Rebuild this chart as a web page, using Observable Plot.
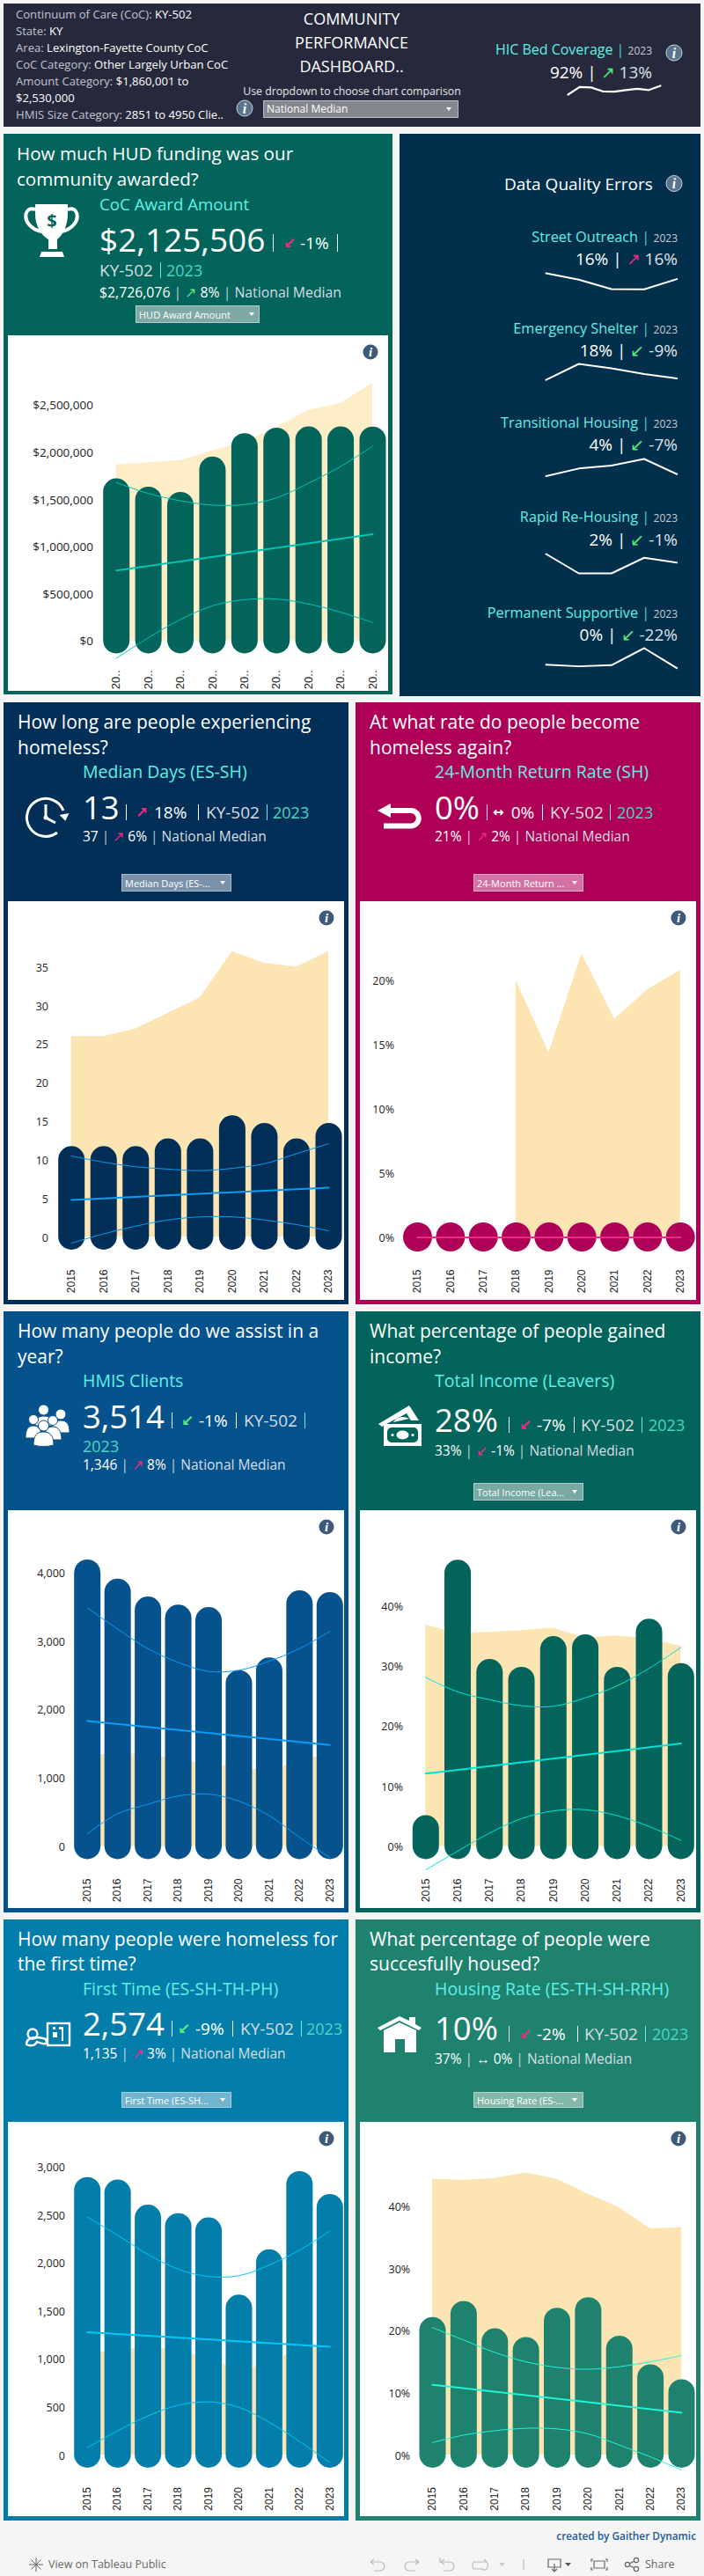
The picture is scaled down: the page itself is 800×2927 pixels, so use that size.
<!DOCTYPE html>
<html><head><meta charset="utf-8">
<script src="https://cdn.jsdelivr.net/npm/d3@7"></script>
<script src="https://cdn.jsdelivr.net/npm/@observablehq/plot@0.6"></script>
<style>
html,body{margin:0;padding:0;background:#f5f5f5;}
#page{position:relative;width:800px;height:2927px;overflow:hidden;font-family:"Open Sans",sans-serif;}
.box{position:absolute;}
.t{position:absolute;white-space:nowrap;transform:translateY(-50%);line-height:1;}
.plot{position:absolute;}
.plot svg{display:block;font-family:"Open Sans",sans-serif;}
</style></head><body><div id="page"></div>
<script>
const years=[2015,2016,2017,2018,2019,2020,2021,2022,2023];
const trendYears=[2015,2023];
const dqYears=[2019,2020,2021,2022,2023];

const awardCoC=[1576000,1489000,1433000,1807000,2055000,2114000,2127000,2127000,2125506];
const awardNat=[1866000,1887000,1909000,2012000,2105000,2260000,2441000,2516000,2726076];
const awardTrend=[743000,1129000];
const awardUpper=[1676000,1561000,1483000,1437000,1443000,1514000,1670000,1847000,2062000];
const awardLower=[-187000,31000,224000,370000,435000,442000,389000,302000,193000];
const awardTicks=[0,500000,1000000,1500000,2000000,2500000];

const daysCoC=[10,10,10,11,11,14,13,11,13];
const daysNat=[26,26,27,29,31,37,35.5,35,37];
const daysTrend=[4.8,6.4];
const daysUpper=[10.5,9.7,9.1,8.8,8.6,8.9,9.5,10.8,12.1];
const daysLower=[-0.8,0.4,1.4,2.2,2.6,2.6,2.2,1.6,0.8];
const daysTicks=[0,5,10,15,20,25,30,35];

const returnCoC=[0,0,0,0,0,0,0,0,0];
const returnNat=[null,null,null,20,14.4,22.1,17,19.3,20.8];
const returnTrend=[0,0];
const returnTicks=[0,5,10,15,20];

const clientsCoC=[3990,3710,3450,3330,3295,2375,2560,3540,3514];
const clientsNat=[1325,1350,1345,1260,1205,1160,1100,1250,1346];
const clientsTrend=[1831,1481];
const clientsUpper=[3483,3174,2887,2686,2554,2571,2703,2887,3139];
const clientsLower=[184,476,614,735,763,660,448,132,-166];
const clientsTicks=[0,1000,2000,3000,4000];

const incomeCoC=[2.9,45.4,28.9,27.6,32.7,33,27.6,35.6,28.2];
const incomeNat=[36.8,35.4,35.6,35.9,36.3,34.7,35,34.5,33.3];
const incomeTrend=[12.1,17.1];
const incomeUpper=[28.1,25.7,24.4,23.4,23.3,24.7,26.7,29.6,33.1];
const incomeLower=[-3.9,-0.8,2.2,4.6,5.9,6.1,5.1,3.3,1];
const incomeTicks=[0,10,20,30,40];

const firstCoC=[2752,2726,2465,2376,2332,1527,2000,2814,2574];
const firstNat=[1060,1085,1125,1085,1010,885,950,1115,1135];
const firstTrend=[1279,1128];
const firstUpper=[2478,2288,2088,1934,1858,1867,1978,2133,2332];
const firstLower=[75,252,407,518,553,496,341,142,-80];
const firstTicks=[0,500,1000,1500,2000,2500,3000];

const housedCoC=[20,22.6,18.2,16.8,21.5,23.2,17,12.4,10];
const housedNat=[44.4,44.2,44.5,45.4,44.4,42,39.8,36.4,36.6];
const housedTrend=[11.3,6.8];
const housedUpper=[20.5,18.5,16.5,15,14.1,13.8,14.2,15,16];
const housedLower=[2,3.2,3.9,4.3,4.2,3.4,1.6,-0.3,-2.4];
const housedTicks=[0,10,20,30,40];

const hicCoverage=[65,88.5,87,75,74,79,83,79,92];
const dqStreet=[25,15,0.5,0,16];
const dqShelter=[15,48,39,27,18];
const dqTransitional=[3.1,6.6,8,11,4];
const dqRapid=[3.6,0,0,2.9,2];
const dqPermanent=[3.7,2,3.3,22,0];

const page=document.getElementById("page");
function box(x,y,w,h,c){const d=document.createElement("div");d.className="box";d.style.cssText=`left:${x}px;top:${y}px;width:${w}px;height:${h}px;background:${c}`;page.appendChild(d);return d;}
function txt(x,y,s,size,color,o={}){const d=document.createElement("div");d.className="t";d.innerHTML=s;
 let css=`top:${y}px;font-size:${size}px;color:${color};`;
 if(o.right!==undefined)css+=`right:${800-o.right}px;`;else if(o.center)css+=`left:${x}px;transform:translate(-50%,-50%);`;else css+=`left:${x}px;`;
 if(o.weight)css+=`font-weight:${o.weight};`;if(o.ls)css+=`letter-spacing:${o.ls}px;`;if(o.font)css+=`font-family:${o.font};`;
 d.style.cssText=css;page.appendChild(d);return d;}

const CYAN="#5ff0e6",PINK="#ec2a86",GREEN="#5fe87c",SOFT="#d6dde2";
const ARROWFONT='"DejaVu Sans"';

function chart(c){
 const [bx,by,bw,bh]=c.box;
 const el=document.createElement("div");el.className="plot";el.style.cssText=`left:${bx}px;top:${by}px;`;
 const nat=c.nat||[];
 const marks=[];
 marks.push(Plot.areaY(nat,{x:(d,i)=>years[i],y1:0,y2:d=>d,fill:c.areaColor||"#fce5b2"}));
 marks.push(Plot.ruleX(c.coc,{x:(d,i)=>years[i],y1:0,y2:d=>d,stroke:c.bar,strokeWidth:c.bw||30,strokeLinecap:"round"}));
 if(c.upper)marks.push(Plot.line(c.upper,{x:(d,i)=>years[i],y:d=>d,stroke:c.line,strokeWidth:1,curve:"catmull-rom"}));
 if(c.lower)marks.push(Plot.line(c.lower,{x:(d,i)=>years[i],y:d=>d,stroke:c.line,strokeWidth:1,curve:"catmull-rom"}));
 marks.push(Plot.line(c.trend,{x:(d,i)=>trendYears[i],y:d=>d,stroke:c.line,strokeWidth:c.tw||2}));
 marks.push(Plot.axisY(c.ticks,{anchor:"left",tickSize:0,tickPadding:0,tickFormat:c.fmt,fontSize:c.fs||12.5,fill:"#222",dy:1}));
 marks.push(Plot.axisX(years,{anchor:"bottom",tickSize:0,tickPadding:0,tickRotate:-90,tickFormat:c.xfmt||(d=>String(d)),fontSize:c.xfs||12,fill:"#222",fontFamily:'"Liberation Sans"'}));
 const tt=c.ticks[c.ticks.length-1];
 const p=Plot.plot({width:bw,height:bh,marginLeft:c.labelRight-bx,marginRight:0,marginTop:0,marginBottom:bh-(c.labelTop-by),
  x:{domain:[2015,2023],range:[c.cx[0]-bx,c.cx[1]-bx]},
  y:{domain:[0,tt],range:[c.base-by,c.top-by]},
  style:{background:"#fff",overflow:"hidden"},marks});
 el.appendChild(p);page.appendChild(el);
}
function spark(vals,xs,x0,x1,yTop,yBot,w){
 const pad=4;const L=x0-pad,T=yTop-pad,W=x1-x0+2*pad,H=yBot-yTop+2*pad;
 const el=document.createElement("div");el.className="plot";el.style.cssText=`left:${L}px;top:${T}px;`;
 const p=Plot.plot({width:W,height:H,margin:0,
  x:{domain:d3.extent(xs),range:[pad,W-pad],axis:null},
  y:{domain:d3.extent(vals),range:[H-pad,pad],axis:null},
  style:{background:"transparent"},
  marks:[Plot.line(vals,{x:(d,i)=>xs[i],y:d=>d,stroke:"#fff",strokeWidth:w||2})]});
 el.appendChild(p);page.appendChild(el);
}
function dropdown(x0,y0,x1,y1,label,fill,border,fs){
 const d=box(x0,y0,x1-x0,y1-y0,fill);d.style.boxSizing="border-box";d.style.border=`1px solid ${border}`;
 txt(x0+4,(y0+y1)/2,label,fs||11,"#fff");
}
function pipe(x,y,h,c){box(x,y-h/2,1.2,h,c||"#fff");}

/* ---------- header ---------- */
box(4,4,792,140,"#26293c");
[["Continuum of Care (CoC): ","KY-502"],["State: ","KY"],["Area: ","Lexington-Fayette County CoC"],["CoC Category: ","Other Largely Urban CoC"],["Amount Category: ","$1,860,001 to"],["","$2,530,000"],["HMIS Size Category: ","2851 to 4950 Clie.."]].forEach((r,i)=>{
 txt(18,17.3+i*19,`<span style="color:#c2c5cd">${r[0]}</span><span style="color:#fff;font-weight:500">${r[1]}</span>`,13.1,"#fff");
});
["COMMUNITY","PERFORMANCE","DASHBOARD.."].forEach((s,i)=>txt(399.5,21+27*i,s,18,"#fff",{center:true}));
txt(400,104,"Use dropdown to choose chart comparison",12.3,"#e6e7ea",{center:true});
dropdown(299,114,521,134,"National Median","#85878f","#b9bbc0",12);
txt(0,55.5,`<span style="color:${CYAN}">HIC Bed Coverage</span> <span style="color:#5cc">|</span> <span style="color:#c9ccd2;font-size:12px">2023</span>`,16,"#fff",{right:741});
txt(0,81.5,`92% | <span style="color:${GREEN};font-family:${ARROWFONT};font-weight:bold;font-size:15px">↗</span> <span style="color:#dfe2e6">13%</span>`,19,"#fff",{right:741});
spark(hicCoverage,years,645,750,96.7,106.7,2.2);

/* ---------- award panel ---------- */
const G="#02645a";
box(4,152,442,637,G);
box(9,381,432,404,"#fff");
txt(19,174,"How much HUD funding was our",20.6,"#fff");
txt(19,203,"community awarded?",20.6,"#fff");
txt(113,231.5,"CoC Award Amount",18.7,CYAN);
txt(113,271,"$2,125,506",37,"#fff");
pipe(310,276,20);
txt(322,276,"↙",17,PINK,{font:ARROWFONT,weight:"bold"});
txt(341,276,"-1%",19,"#fff");pipe(383,276,20);
txt(113,307,"KY-502",19,SOFT);pipe(182,307,18,CYAN);
txt(189,307,"2023",18,"#46d8c4");
txt(113,332.5,`$2,726,076 <span style="color:#bcd">|</span> <span style="color:${GREEN};font-family:${ARROWFONT};font-weight:bold;font-size:13px">↗</span> 8% <span style="color:#bcd">|</span> <span style="color:${SOFT}">National Median</span>`,15.8,"#fff");
dropdown(154,347,295,367,"HUD Award Amount","#7fa9a5","#b5cecb",11);
chart({box:[9,381,432,404],coc:awardCoC,nat:awardNat,trend:awardTrend,upper:awardUpper,lower:awardLower,ticks:awardTicks,
 fmt:d=>"$"+d3.format(",")(d),xfmt:()=>"20..",labelRight:105.5,labelTop:761,cx:[131.7,423],base:727.5,top:459.5,bar:G,line:"#00c4b4",areaColor:"#fdeec8",xfs:13,fs:13.5});

/* ---------- data quality panel ---------- */
box(454,152,342,638.5,"#022f4b");
txt(573,208.5,"Data Quality Errors",19,"#fff");
function dq(name,yN,yH,val,arrow,col,chg){
 txt(0,yN,`<span style="color:${CYAN}">${name}</span> <span style="color:#5cc">|</span> <span style="color:#c9ccd2;font-size:12px">2023</span>`,16.3,"#fff",{right:770});
 txt(0,yH,`${val} | <span style="color:${col};font-family:${ARROWFONT};font-weight:bold;font-size:15px">${arrow}</span> <span style="color:#dfe2e6">${chg}</span>`,19,"#fff",{right:770});
}
dq("Street Outreach",268.6,294,"16%","↗",PINK,"16%");
dq("Emergency Shelter",372.6,397.5,"18%","↙",GREEN,"-9%");
dq("Transitional Housing",479.6,505.3,"4%","↙",GREEN,"-7%");
dq("Rapid Re-Housing",587.4,613,"2%","↙",GREEN,"-1%");
dq("Permanent Supportive",695.6,720.5,"0%","↙",GREEN,"-22%");
spark(dqStreet,dqYears,620,768.7,309.6,327.9);
spark(dqShelter,dqYears,620,768.7,412.9,431.1);
spark(dqTransitional,dqYears,620,768.7,521,540.5);
spark(dqRapid,dqYears,620,768.7,629,651);
spark(dqPermanent,dqYears,620,768.7,735.8,758.5);

/* ---------- metric header ---------- */
function head(p){
 const X=p.x;
 txt(X+20,p.t1,p.title[0],21,"#fff");txt(X+20,p.t2,p.title[1],21,"#fff");
 txt(X+94,p.n,p.name,19.5,CYAN);
 txt(X+94,p.b,p.big,36.5,"#fff");
 pipe(X+p.p1,p.y,18);
 txt(X+p.ax,p.y,p.arrow,p.arrow=="↔"?15:17,p.ac,{font:ARROWFONT,weight:"bold"});
 txt(X+p.cx,p.y,p.chg,19,"#fff");
 pipe(X+p.p2,p.y,18);
 txt(X+p.kx,p.y,"KY-502",19,SOFT);
 if(p.yr2){txt(X+94,p.yr2,"2023",18,"#46d8c4");}
 if(p.p3){pipe(X+p.p3,p.y,18,CYAN);}
 if(p.yx)txt(X+p.yx,p.y,"2023",18,"#46d8c4");
 txt(X+94,p.l2,`${p.nat} <span style="opacity:.7">|</span> <span style="color:${p.nc};font-family:${ARROWFONT};font-weight:bold;font-size:13px">${p.na}</span> ${p.nch} <span style="opacity:.7">|</span> <span style="color:${SOFT}">National Median</span>`,15.5,"#fff");
}

/* ---------- row 2 ---------- */
const NAVY="#012f57",CRIM="#ad0056";
box(4,798,392,684,NAVY);box(9,1024,382,453,"#fff");
head({x:0,title:["How long are people experiencing","homeless?"],t1:820,t2:848.5,name:"Median Days (ES-SH)",n:877,big:"13",b:917,y:922.5,p1:142.7,arrow:"↗",ax:154,ac:PINK,chg:"18%",cx:175,p2:225,kx:234,p3:302.7,yx:310,l2:950.6,nat:"37",na:"↗",nc:PINK,nch:"6%"});
dropdown(138,993.3,263,1012.7,"Median Days (ES-...","#7a92a9","#a9bccd",11);
chart({box:[9,1024,382,453],coc:daysCoC,nat:daysNat,trend:daysTrend,upper:daysUpper,lower:daysLower,ticks:daysTicks,fmt:d=>String(d),
 labelRight:54.5,labelTop:1442,cx:[80.7,373],base:1405,top:1098.3,bar:NAVY,line:"#0a9cf0"});

box(404,798,392,684,CRIM);box(409,1024,382,453,"#fff");
head({x:400,title:["At what rate do people become","homeless again?"],t1:820,t2:848.5,name:"24-Month Return Rate (SH)",n:877,big:"0%",b:917,y:922.5,p1:152.7,arrow:"↔",ax:160,ac:"#fff",chg:"0%",cx:180.7,p2:216,kx:225,p3:293,yx:301,l2:950.6,nat:"21%",na:"↗",nc:PINK,nch:"2%"});
dropdown(538,993.3,663,1012.7,"24-Month Return ...","#d273a3","#e8b0cc",11);
chart({box:[409,1024,382,453],coc:returnCoC,nat:returnNat,trend:returnTrend,ticks:returnTicks,fmt:d=>d+"%",bw:33,
 labelRight:447.5,labelTop:1442,cx:[474,772.7],base:1405.5,top:1113.8,bar:CRIM,line:"#ee2a86"});

/* ---------- row 3 ---------- */
const BLUE="#06528c";
box(4,1490,392,682.5,BLUE);box(9,1716,382,452,"#fff");
head({x:0,title:["How many people do we assist in a","year?"],t1:1511.7,t2:1540.7,name:"HMIS Clients",n:1569.3,big:"3,514",b:1608.6,y:1614.4,p1:194.7,arrow:"↙",ax:206,ac:GREEN,chg:"-1%",cx:226,p2:268,kx:277,p3:346,yr2:1643,l2:1665.3,nat:"1,346",na:"↗",nc:PINK,nch:"8%"});
chart({box:[9,1716,382,452],coc:clientsCoC,nat:clientsNat,trend:clientsTrend,upper:clientsUpper,lower:clientsLower,ticks:clientsTicks,fmt:d3.format(","),
 labelRight:73.5,labelTop:2134,cx:[98.7,374.3],base:2097.4,top:1786.2,bar:BLUE,line:"#0a9cf8"});

box(404,1490,392,682.5,G);box(409,1716,382,452,"#fff");
head({x:400,title:["What percentage of people gained","income?"],t1:1511.7,t2:1540.7,name:"Total Income (Leavers)",n:1569.3,big:"28%",b:1613,y:1619,p1:177.7,arrow:"↙",ax:190,ac:PINK,chg:"-7%",cx:210,p2:251.7,kx:260,p3:329,yx:337,l2:1648.8,nat:"33%",na:"↙",nc:PINK,nch:"-1%"});
dropdown(538,1685.4,663,1704.6,"Total Income (Lea...","#78a9a4","#b5cecb",11);
chart({box:[409,1716,382,452],coc:incomeCoC,nat:incomeNat,trend:incomeTrend,upper:incomeUpper,lower:incomeLower,ticks:incomeTicks,fmt:d=>d+"%",
 labelRight:457.5,labelTop:2134,cx:[483.3,773.3],base:2097.4,top:1824.2,bar:G,line:"#00e4d8"});

/* ---------- row 4 ---------- */
const TEAL="#037daa",SEA="#1e826f";
box(4,2181,392,683,TEAL);box(9,2411,382,448,"#fff");
head({x:0,title:["How many people were homeless for","the first time?"],t1:2202.8,t2:2231.3,name:"First Time (ES-SH-TH-PH)",n:2260.3,big:"2,574",b:2299.4,y:2305,p1:194.7,arrow:"↙",ax:202,ac:GREEN,chg:"-9%",cx:222,p2:264,kx:273,p3:341.7,yx:348,l2:2333.7,nat:"1,135",na:"↗",nc:PINK,nch:"3%"});
dropdown(138,2376.7,263,2395.5,"First Time (ES-SH...","#72b3cd","#a8d0e0",11);
chart({box:[9,2411,382,448],coc:firstCoC,nat:firstNat,trend:firstTrend,upper:firstUpper,lower:firstLower,ticks:firstTicks,fmt:d3.format(","),
 labelRight:73.5,labelTop:2825.5,cx:[98.7,374.3],base:2789,top:2461.6,bar:TEAL,line:"#00c8f8"});

box(404,2181,392,683,SEA);box(409,2411,382,448,"#fff");
head({x:400,title:["What percentage of people were","succesfully housed?"],t1:2202.8,t2:2231.3,name:"Housing Rate (ES-TH-SH-RRH)",n:2260.3,big:"10%",b:2304.2,y:2310.5,p1:177.7,arrow:"↙",ax:190,ac:PINK,chg:"-2%",cx:210,p2:255.7,kx:264,p3:333,yx:341,l2:2340,nat:"37%",na:"↔",nc:"#fff",nch:"0%"});
dropdown(538,2376.7,663,2395.5,"Housing Rate (ES-...","#83b8ab","#b4d4cc",11);
chart({box:[409,2411,382,448],coc:housedCoC,nat:housedNat,trend:housedTrend,upper:housedUpper,lower:housedLower,ticks:housedTicks,fmt:d=>d+"%",
 labelRight:465.7,labelTop:2825.5,cx:[491,774],base:2789,top:2506.6,bar:SEA,line:"#20f5d8"});

/* ---------- footer ---------- */
txt(0,2882,"created by Gaither Dynamic",11.8,"#1d5c99",{right:791,weight:600});
txt(55,2913.6,"View on Tableau Public",12.5,"#666");
txt(733,2913.6,"Share",12.5,"#666");

/* ---------- icons ---------- */
function info(x,y,r,fill,stroke){return `<circle cx="${x}" cy="${y}" r="${r}" fill="${fill}" ${stroke?`stroke="${stroke}"`:""}/><text x="${x}" y="${y+r*.62}" text-anchor="middle" font-family="Liberation Serif" font-style="italic" font-weight="bold" font-size="${r*1.75}" fill="#fff">i</text>`;}
function caret(x,y){return `<path d="M${x-3},${y-2}h6l-3,4z" fill="#fff"/>`;}
const icons=[
 info(278,123,9,"#5a7490","#c9d4de"),info(766,60,9,"#5a7490","#c9d4de"),info(766,208.5,9,"#5a7490","#c9d4de"),
 info(421,400,8.5,"#3d5a78"),info(371,1043,8.5,"#3d5a78"),info(771,1043,8.5,"#3d5a78"),info(371,1735,8.5,"#3d5a78"),info(771,1735,8.5,"#3d5a78"),info(371,2430,8.5,"#3d5a78"),info(771,2430,8.5,"#3d5a78"),
 caret(510,124),caret(286,357),caret(253,1003),caret(653,1003),caret(653,1695),caret(253,2386),caret(653,2386),
 /* trophy */
 `<path d="M40,232H77V243C77,258 70,268 65,272V283H55V272C48,268 40,258 40,243Z" fill="#fff"/><path d="M47,286H71L73,292H45Z" fill="#fff"/><path d="M40,238C28,234 27,248 33,255C37,260 42,262 47,263M77,238C89,234 90,248 84,255C80,260 75,262 70,263" fill="none" stroke="#fff" stroke-width="4"/><text x="59" y="258" font-size="20" font-weight="bold" text-anchor="middle" fill="${G}" font-family="Open Sans">$</text>`,
 /* clock */
 `<path d="M72,921A21.5,21.5 0 1 0 65,946" fill="none" stroke="#fff" stroke-width="3"/><path d="M68,925H79L73.5,933Z" fill="#fff" transform="rotate(-10 73 928)"/><path d="M52,914V929L63,935" fill="none" stroke="#fff" stroke-width="3"/><circle cx="52" cy="929" r="2.5" fill="#fff"/>`,
 /* return */
 `<path d="M429,921L444,913V929Z" fill="#fff"/><path d="M442,921H467A8.5,8.5 0 0 1 467,938.5H436" fill="none" stroke="#fff" stroke-width="6"/>`,
 /* people */
 `<g fill="#fff" stroke="${BLUE}" stroke-width="1"><circle cx="69" cy="1607" r="6"/><path d="M60,1628C58,1618 62,1614 69,1614C76,1614 79,1618 79,1628Z"/><circle cx="49.5" cy="1602" r="6"/><path d="M40,1620C40,1612 44,1609 50,1609C56,1609 60,1612 60,1620Z"/><circle cx="38" cy="1613" r="5.5"/><path d="M29,1634C29,1624 32,1620 38,1620C44,1620 47,1624 47,1634Z"/><circle cx="60" cy="1614" r="5.5"/><path d="M50,1636C50,1626 54,1621 60,1621C66,1621 70,1626 70,1636Z"/><circle cx="49.5" cy="1620" r="6"/><path d="M38,1642C38,1631 42,1627 49.5,1627C57,1627 61,1631 61,1642C54,1644 45,1644 38,1642Z"/></g>`,
 /* money */
 `<path d="M430,1618L465,1597L476,1614H467L462,1606L441,1617L434,1621Z" fill="#fff"/><path d="M447,1616C450,1610 458,1608 465,1612Z" fill="#fff"/><rect x="436" y="1618" width="43" height="25" fill="#fff"/><rect x="440" y="1622" width="35" height="17" rx="5" fill="${G}"/><ellipse cx="457.5" cy="1630.5" rx="7" ry="5" fill="#fff"/><circle cx="446" cy="1630.5" r="1.6" fill="#fff"/><circle cx="469" cy="1630.5" r="1.6" fill="#fff"/>`,
 /* building */
 `<rect x="54" y="2299" width="25" height="25" fill="none" stroke="#fff" stroke-width="2.4"/><path d="M60,2303h3v3h-3zM67,2303h3v3h-3zM60,2309h5v6h-5zM70,2303h2v16h-2z" fill="#fff"/><circle cx="37" cy="2311" r="5.5" fill="none" stroke="#fff" stroke-width="2.4"/><path d="M30,2323C30,2316 36,2315 42,2315C50,2316 53,2316 53,2320C53,2324 47,2322 42,2320C40,2325 34,2325 30,2323Z" fill="none" stroke="#fff" stroke-width="2.4"/>`,
 /* house */
 `<path d="M429,2304L454,2291L465,2296V2292H472V2300L479,2304L476,2307L454,2296L432,2307Z" fill="#fff"/><path d="M436,2307L454,2298L473,2307V2332H460V2317H449V2332H436Z" fill="#fff"/>`,
 /* toolbar */
 `<g fill="none" stroke="#bbb" stroke-width="1.2"><path d="M421,2911H432A5,5 0 0 1 432,2921H425M421,2911l4,-3M421,2911l4,3"/><path d="M476,2911H465A5,5 0 0 0 465,2921H472M476,2911l-4,-3M476,2911l-4,3"/><path d="M501,2911H511A5,5 0 0 1 511,2921H504M501,2911l4,-3M501,2911l4,3M500,2906v6"/><path d="M553,2911H540A3,4 0 0 0 540,2919H548A3,4 0 0 0 553,2911M553,2911l-3,-3"/><path d="M595,2908v12"/></g><path d="M567,2912h7l-3.5,4z" fill="#ccc"/>`,
 `<g fill="none" stroke="#666" stroke-width="1.2"><path d="M623,2908H637V2917H623ZM630,2913V2922M627,2919l3,3l3,-3"/><path d="M674,2908h-2v3M688,2908h2v3M674,2920h-2v-3M688,2920h2v-3M675,2910h12v8h-12z"/><circle cx="713" cy="2914" r="2.6"/><circle cx="723" cy="2909" r="2.6"/><circle cx="723" cy="2919" r="2.6"/><path d="M715,2913l6,-3M715,2915l6,3"/></g><path d="M642,2912h7l-3.5,4z" fill="#555"/>`,
 `<g fill="none" stroke="#666" stroke-width="1"><path d="M41,2906v16M33,2914h16M35.5,2908.5l11,11M46.5,2908.5l-11,11"/></g>`
].join("");
const ov=document.createElementNS("http://www.w3.org/2000/svg","svg");
ov.setAttribute("width",800);ov.setAttribute("height",2927);ov.style.cssText="position:absolute;left:0;top:0;pointer-events:none";
ov.innerHTML=icons;page.appendChild(ov);
</script></body></html>
